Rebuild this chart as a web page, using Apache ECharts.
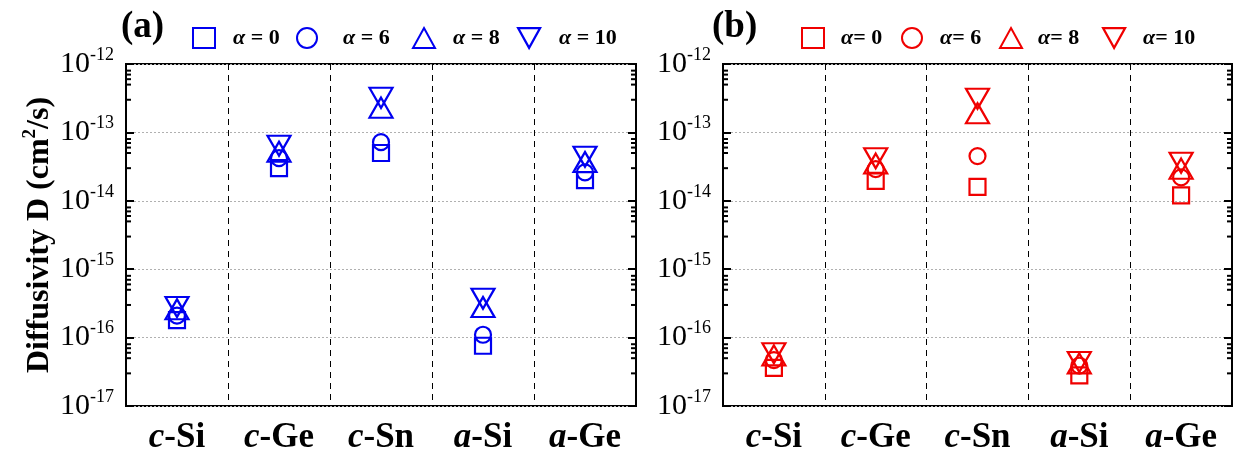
<!DOCTYPE html>
<html><head><meta charset="utf-8">
<script src="https://cdn.jsdelivr.net/npm/echarts@6/dist/echarts.min.js"></script>
<style>html,body{margin:0;padding:0;background:#fff}#c{width:1235px;height:462px}</style>
</head><body><div id="c"></div>
<script>
// ---- data ----
const categories = ['c-Si', 'c-Ge', 'c-Sn', 'a-Si', 'a-Ge'];
const yMinExp = -17;
const yMaxExp = -12;
const minorMultipliers = [3, 5, 6, 7, 8];

const namesA = ['α = 0', 'α = 6', 'α = 8', 'α = 10'];
const namesB = ['α= 0', 'α= 6', 'α= 8', 'α= 10'];

// panel (a)
const a_alpha0  = [1.8e-16, 3.0e-14, 5.0e-14, 7.6e-17, 2.0e-14];
const a_alpha6  = [2.1e-16, 4.2e-14, 7.2e-14, 1.1e-16, 2.6e-14];
const a_alpha8  = [2.6e-16, 5.2e-14, 2.3e-13, 2.8e-16, 3.7e-14];
const a_alpha10 = [2.8e-16, 6.4e-14, 3.2e-13, 3.7e-16, 4.4e-14];
// panel (b)
const b_alpha0  = [3.6e-17, 1.95e-14, 1.6e-14, 2.8e-17, 1.2e-14];
const b_alpha6  = [4.7e-17, 2.9e-14, 4.5e-14, 3.9e-17, 2.2e-14];
const b_alpha8  = [5.5e-17, 3.5e-14, 1.9e-13, 4.2e-17, 2.95e-14];
const b_alpha10 = [5.9e-17, 4.2e-14, 3.1e-13, 4.4e-17, 3.6e-14];

// ---- styling ----
const FONT = 'Liberation Serif';
const BLUE = '#0000f0';
const RED = '#f00000';
const DOWN_TRI = 'path://M0,0L2,0L1,1.8Z';
const symbols = ['rect', 'circle', 'triangle', 'triangle'];
const rotates = [0, 0, 0, 180];
const sizes = [16, 16, [23, 20], [23, 20]];

const grids = [
  { left: 126, top: 64, width: 510, height: 342, show: true, borderColor: '#000', borderWidth: 2, backgroundColor: 'transparent' },
  { left: 723, top: 64, width: 509, height: 342, show: true, borderColor: '#000', borderWidth: 2, backgroundColor: 'transparent' }
];

const xAxes = [0, 1].map(i => ({
  type: 'category', gridIndex: i, data: categories, boundaryGap: true,
  axisLine: { show: false }, axisTick: { show: false },
  splitLine: { show: true, interval: 0, lineStyle: { color: '#000', width: 1, type: [6, 5] } },
  axisLabel: {
    interval: 0, margin: 14,
    formatter: v => { const p = v.split('-'); return '{i|' + p[0] + '}{b|-' + p[1] + '}'; },
    rich: {
      i: { fontFamily: FONT, fontSize: 35, fontStyle: 'italic', fontWeight: 'bold', color: '#000' },
      b: { fontFamily: FONT, fontSize: 35, fontWeight: 'bold', color: '#000' }
    }
  }
}));

function yAxisCfg(gridIndex, position, showLabel, name) {
  return {
    type: 'log', logBase: 10, gridIndex, position,
    min: Math.pow(10, yMinExp), max: Math.pow(10, yMaxExp),
    axisLine: { show: false },
    axisTick: { show: true, inside: true, length: 8, lineStyle: { color: '#000', width: 2 } },
    splitLine: { show: position === 'left', lineStyle: { color: '#b0b0b0', width: 1, type: [2, 2] } },
    minorTick: { show: false },
    axisLabel: {
      show: showLabel, margin: 12,
      formatter: v => '{b|10}{s|' + Math.round(Math.log10(v)) + '}',
      rich: {
        b: { fontFamily: FONT, fontSize: 30, color: '#000' },
        s: { fontFamily: FONT, fontSize: 18, color: '#000', padding: [0, 0, 18, 0] }
      }
    },
    name: name || '',
    nameLocation: 'middle', nameGap: 68, nameRotate: 90,
    nameTextStyle: {
      rich: {
        n: { fontFamily: FONT, fontSize: 32, fontWeight: 'bold', color: '#000' },
        s: { fontFamily: FONT, fontSize: 19, fontWeight: 'bold', color: '#000', padding: [0, 0, 18, 0] }
      }
    }
  };
}

const yAxes = [
  yAxisCfg(0, 'left', true, '{n|Diffusivity D (cm}{s|2}{n|/s)}'),
  yAxisCfg(0, 'right', false),
  yAxisCfg(1, 'left', true),
  yAxisCfg(1, 'right', false)
];

// minor tick values from data arrays
const minorValues = [];
for (let e = yMinExp; e < yMaxExp; e++) {
  minorMultipliers.forEach(m => minorValues.push([0, m * Math.pow(10, e)]));
}

function minorTickSeries(gridIdx) {
  return {
    type: 'custom', xAxisIndex: gridIdx, yAxisIndex: gridIdx * 2, silent: true,
    data: minorValues,
    renderItem: (params, api) => {
      const y = api.coord([0, api.value(1)])[1];
      const cs = params.coordSys;
      return {
        type: 'group', children: [
          { type: 'line', shape: { x1: cs.x, y1: y, x2: cs.x + 5, y2: y }, style: { stroke: '#000', lineWidth: 2 } },
          { type: 'line', shape: { x1: cs.x + cs.width - 5, y1: y, x2: cs.x + cs.width, y2: y }, style: { stroke: '#000', lineWidth: 2 } }
        ]
      };
    }
  };
}

function scatterSeries(names, dataArrs, color, gridIdx) {
  return names.map((n, k) => ({
    name: n, type: 'scatter', xAxisIndex: gridIdx, yAxisIndex: gridIdx * 2,
    symbol: symbols[k], symbolRotate: rotates[k], symbolSize: sizes[k],
    itemStyle: { color: 'rgba(0,0,0,0)', borderColor: color, borderWidth: 2.2, opacity: 1 },
    emphasis: { disabled: true },
    data: dataArrs[k].map((v, i) => [categories[i], v]),
    z: 5
  }));
}

const legendIconCenters = [[198, 302, 418, 523], [807, 907, 1005, 1108]];
const legendTextStarts = [[227, 338, 447, 553], [835, 935, 1032, 1137]];
const panelColors = [BLUE, RED];

const legends = [];
[namesA, namesB].forEach((names, p) => {
  names.forEach((n, k) => {
    const w = 22;
    const gap = legendTextStarts[p][k] - (legendIconCenters[p][k] + w / 2 + 5);
    const lg = {
      data: [n], left: legendIconCenters[p][k] - w / 2, top: 22,
      itemWidth: w, itemHeight: 20, selectedMode: false,
      formatter: name => '{a|α}{t|' + name.slice(1) + '}',
      textStyle: {
        padding: [0, 0, 0, gap],
        rich: {
          a: { fontFamily: FONT, fontSize: 22, fontStyle: 'italic', fontWeight: 'bold', color: '#000' },
          t: { fontFamily: FONT, fontSize: 22, fontWeight: 'bold', color: '#000' }
        }
      }
    };
    if (k === 3) {
      lg.icon = DOWN_TRI;
      lg.itemStyle = { color: 'rgba(0,0,0,0)', borderColor: panelColors[p], borderWidth: 2.2 };
    }
    legends.push(lg);
  });
});

const option = {
  animation: false,
  backgroundColor: '#fff',
  grid: grids,
  xAxis: xAxes,
  yAxis: yAxes,
  legend: legends,
  graphic: [
    { type: 'text', left: 121, top: 9, style: { text: '(a)', font: 'bold 37px "Liberation Serif"', fill: '#000' } },
    { type: 'text', left: 712, top: 9, style: { text: '(b)', font: 'bold 37px "Liberation Serif"', fill: '#000' } }
  ],
  series: [
    ...scatterSeries(namesA, [a_alpha0, a_alpha6, a_alpha8, a_alpha10], BLUE, 0),
    ...scatterSeries(namesB, [b_alpha0, b_alpha6, b_alpha8, b_alpha10], RED, 1),
    minorTickSeries(0),
    minorTickSeries(1)
  ]
};

const chart = echarts.init(document.getElementById('c'), null, { renderer: 'canvas' });
chart.setOption(option);
</script>
</body></html>
